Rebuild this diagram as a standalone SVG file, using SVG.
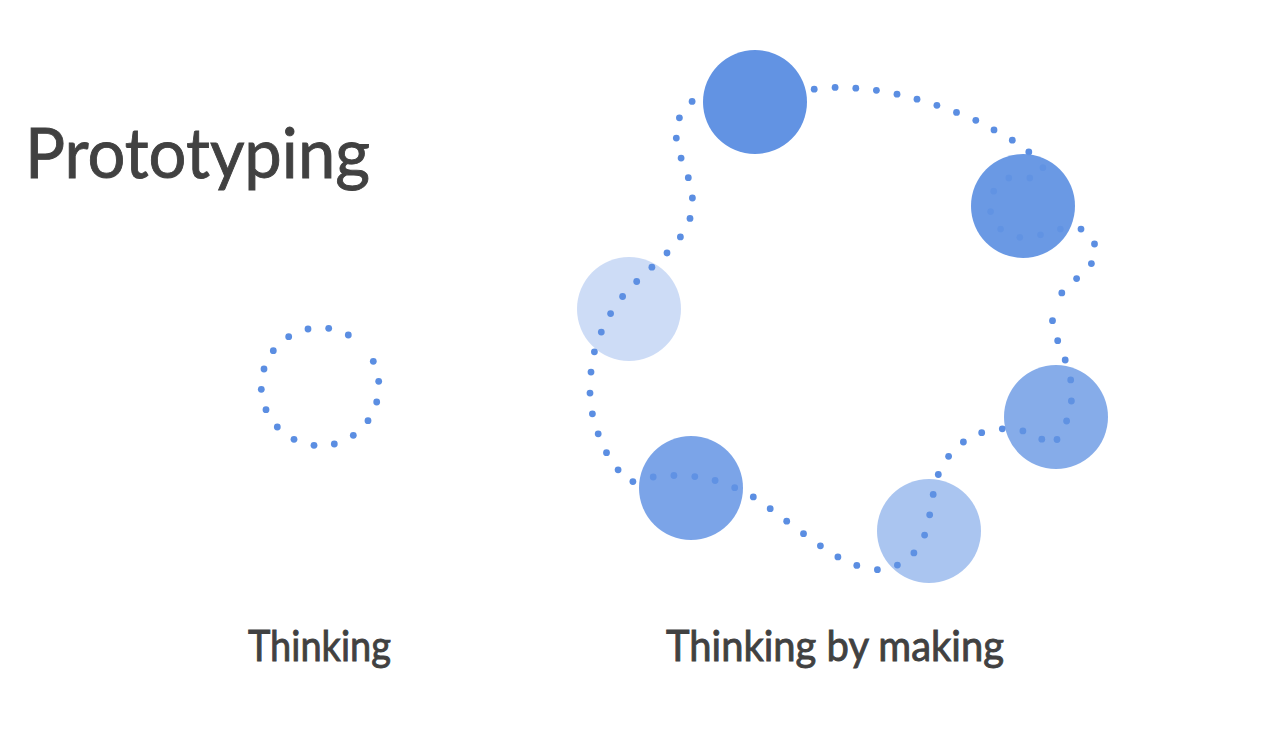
<svg xmlns="http://www.w3.org/2000/svg" width="1288" height="744" viewBox="0 0 1288 744">
<style>
.t{font-family:Lato,"Noto Sans","Liberation Sans",sans-serif;fill:#414141;stroke:#414141;stroke-width:0.9;}
.d circle{fill:#5B8EE2;}
.n{fill:#6293E3;}
</style>
<rect width="1288" height="744" fill="#fff"/>
<text class="t" x="25" y="178" font-size="70" textLength="345" lengthAdjust="spacingAndGlyphs" stroke-width="1.4">Prototyping</text>
<text class="t" x="248" y="661" font-size="42" textLength="143" lengthAdjust="spacingAndGlyphs">Thinking</text>
<text class="t" x="666" y="661" font-size="42" textLength="338" lengthAdjust="spacingAndGlyphs">Thinking by making</text>
<g id="connectors">
<g class="d" id="ring-thinking">
<circle cx="308" cy="329" r="3.4"/><circle cx="328.7" cy="328.3" r="3.4"/><circle cx="348.3" cy="335" r="3.4"/><circle cx="373.3" cy="361.3" r="3.4"/><circle cx="378.7" cy="381.3" r="3.4"/><circle cx="376.7" cy="402" r="3.4"/><circle cx="368" cy="420.7" r="3.4"/><circle cx="353.3" cy="435.3" r="3.4"/><circle cx="334.3" cy="444" r="3.4"/><circle cx="314" cy="445.3" r="3.4"/><circle cx="294" cy="439.3" r="3.4"/><circle cx="277.3" cy="427" r="3.4"/><circle cx="266" cy="409.7" r="3.4"/><circle cx="261.3" cy="389.3" r="3.4"/><circle cx="264" cy="369" r="3.4"/><circle cx="273.3" cy="350.7" r="3.4"/><circle cx="288.7" cy="336.7" r="3.4"/>
</g>
<g class="d" id="path-making">
<circle cx="692.1" cy="101.4" r="3.4"/><circle cx="679.4" cy="117.8" r="3.4"/><circle cx="676.3" cy="138.1" r="3.4"/><circle cx="681.1" cy="158.1" r="3.4"/><circle cx="688.3" cy="177.7" r="3.4"/><circle cx="692.4" cy="198" r="3.4"/><circle cx="690" cy="218.4" r="3.4"/><circle cx="680.4" cy="236.9" r="3.4"/><circle cx="667" cy="253" r="3.4"/><circle cx="651.9" cy="267.2" r="3.4"/><circle cx="636.7" cy="281.5" r="3.4"/><circle cx="622.6" cy="296.5" r="3.4"/><circle cx="610.6" cy="313.6" r="3.4"/><circle cx="601.3" cy="332.1" r="3.4"/><circle cx="594.4" cy="351.8" r="3.4"/><circle cx="591" cy="372.1" r="3.4"/><circle cx="590" cy="393.1" r="3.4"/><circle cx="592.4" cy="413.8" r="3.4"/><circle cx="598.2" cy="433.8" r="3.4"/><circle cx="606.5" cy="452.7" r="3.4"/><circle cx="618.1" cy="469.8" r="3.4"/><circle cx="632.9" cy="481.6" r="3.4"/><circle cx="653.2" cy="477" r="3.4"/><circle cx="673.9" cy="475.5" r="3.4"/><circle cx="694.8" cy="476.6" r="3.4"/><circle cx="715.1" cy="480.5" r="3.4"/><circle cx="734.7" cy="487.7" r="3.4"/><circle cx="753.3" cy="496.9" r="3.4"/><circle cx="770.2" cy="508.7" r="3.4"/><circle cx="786.7" cy="521.2" r="3.4"/><circle cx="803.5" cy="533.7" r="3.4"/><circle cx="820.4" cy="545.8" r="3.4"/><circle cx="837.9" cy="556.9" r="3.4"/><circle cx="856.8" cy="565.4" r="3.4"/><circle cx="877.4" cy="569.7" r="3.4"/><circle cx="897.4" cy="565.1" r="3.4"/><circle cx="913.9" cy="552.9" r="3.4"/><circle cx="924.6" cy="535.1" r="3.4"/><circle cx="929.7" cy="514.8" r="3.4"/><circle cx="933.2" cy="494.4" r="3.4"/><circle cx="938.3" cy="474.5" r="3.4"/><circle cx="948.6" cy="456.3" r="3.4"/><circle cx="963.4" cy="442" r="3.4"/><circle cx="981.7" cy="432.7" r="3.4"/><circle cx="1002.3" cy="428.8" r="3.4"/><circle cx="1022.9" cy="430.9" r="3.4"/><circle cx="1041.8" cy="439.2" r="3.4"/><circle cx="1057" cy="439.5" r="3.4"/><circle cx="1066.6" cy="421" r="3.4"/><circle cx="1071.4" cy="401" r="3.4"/><circle cx="1070.7" cy="379.9" r="3.4"/><circle cx="1065.2" cy="360" r="3.4"/><circle cx="1057.7" cy="340.7" r="3.4"/><circle cx="1052.5" cy="320.7" r="3.4"/><circle cx="1061.8" cy="292.9" r="3.4"/><circle cx="1076.6" cy="278.6" r="3.4"/><circle cx="1091.4" cy="263.6" r="3.4"/><circle cx="1094.5" cy="244" r="3.4"/><circle cx="1081" cy="229.1" r="3.4"/><circle cx="1060.4" cy="229.1" r="3.4"/><circle cx="1040.5" cy="234.8" r="3.4"/><circle cx="1019.8" cy="237.3" r="3.4"/><circle cx="1000.6" cy="229.1" r="3.4"/><circle cx="990.6" cy="211.6" r="3.4"/><circle cx="993.7" cy="191.2" r="3.4"/><circle cx="1008.8" cy="178" r="3.4"/><circle cx="1029.8" cy="178" r="3.4"/><circle cx="1042.9" cy="167.7" r="3.4"/><circle cx="1028.8" cy="152" r="3.4"/><circle cx="1012.3" cy="140.2" r="3.4"/><circle cx="994" cy="129.9" r="3.4"/><circle cx="975.8" cy="120.3" r="3.4"/><circle cx="956.5" cy="112.4" r="3.4"/><circle cx="936.9" cy="105.3" r="3.4"/><circle cx="917" cy="99.2" r="3.4"/><circle cx="897" cy="94.2" r="3.4"/><circle cx="876.4" cy="90.3" r="3.4"/><circle cx="855.8" cy="88.2" r="3.4"/><circle cx="835.1" cy="87.4" r="3.4"/><circle cx="814.2" cy="89.2" r="3.4"/>
</g>
</g>
<g id="node-top"><circle class="n" cx="755" cy="102" r="52"/></g>
<g id="node-right"><circle class="n" cx="1023" cy="206" r="52" fill-opacity="0.95"/></g>
<g id="node-right-lower"><circle class="n" cx="1056" cy="417" r="52" fill-opacity="0.77"/></g>
<g id="node-bottom-right"><circle class="n" cx="929" cy="531" r="52" fill-opacity="0.54"/></g>
<g id="node-bottom-left"><circle class="n" cx="691" cy="488" r="52" fill-opacity="0.84"/></g>
<g id="node-left"><circle class="n" cx="629" cy="309" r="52" fill-opacity="0.32"/></g>
</svg>
